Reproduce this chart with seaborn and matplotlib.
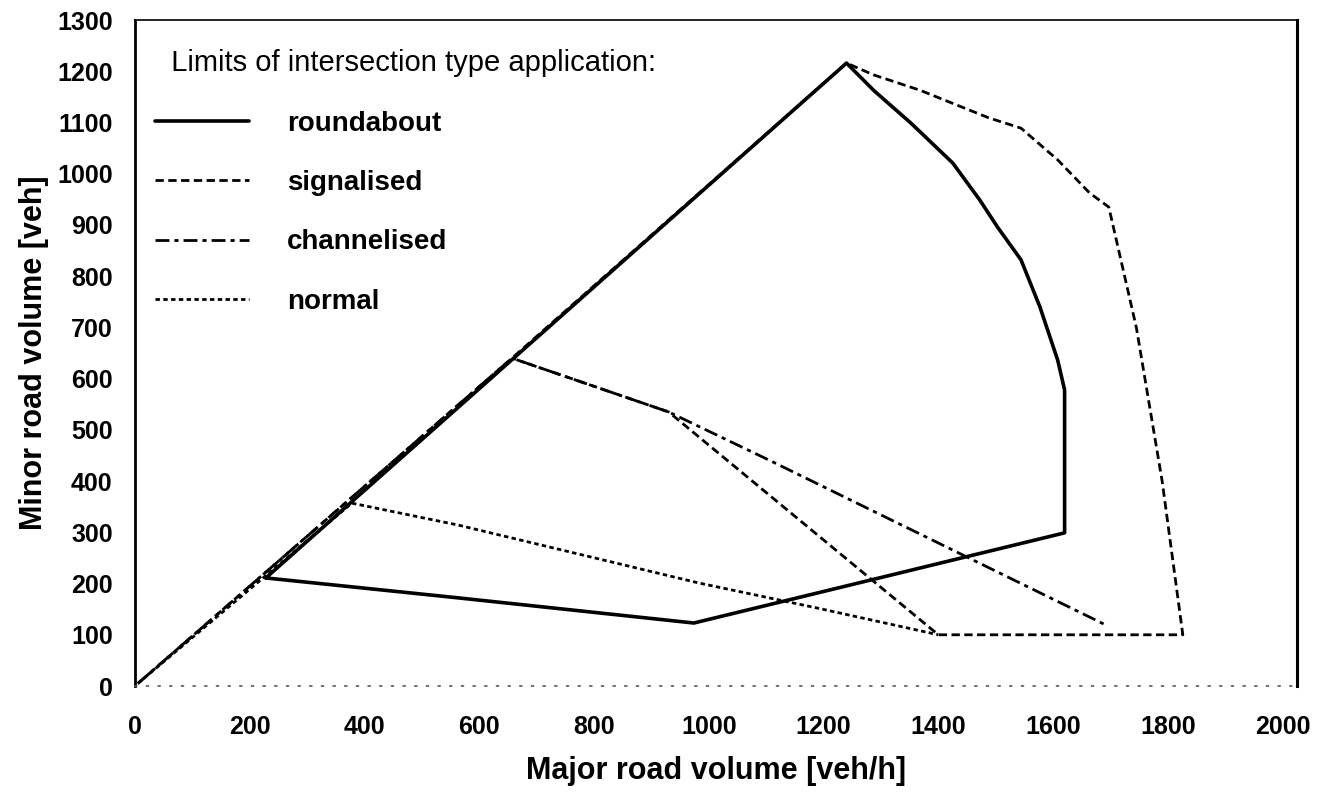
import numpy as np
import pandas as pd
import matplotlib
matplotlib.use("Agg")
import matplotlib.pyplot as plt
import seaborn as sns

# ---- data ----
roundabout_x = [228, 564, 974, 1620, 1620, 1608, 1577, 1544, 1503, 1472, 1425, 1352, 1287, 1240, 228]
roundabout_y = [211, 172, 123, 299, 578, 636, 740, 832, 896, 949, 1021, 1099, 1163, 1216, 211]

signalised_x = [5, 657, 1240, 1287, 1368, 1488, 1544, 1608, 1664, 1697, 1745, 1790, 1826, 1400, 930, 657]
signalised_y = [5, 640, 1216, 1193, 1163, 1109, 1089, 1027, 962, 935, 700, 400, 100, 100, 535, 640]

channelised_x = [5, 657, 930, 1105, 1692]
channelised_y = [5, 640, 535, 441, 119]

normal_x = [5, 378, 564, 983, 1190, 1400]
normal_y = [5, 357, 314, 201, 152, 100]

types = ["roundabout", "signalised", "channelised", "normal"]
legend_title = "Limits of intersection type application:"
x_label = "Major road volume [veh/h]"
y_label = "Minor road volume [veh]"
x_ticks = list(range(0, 2001, 200))
y_ticks = list(range(0, 1301, 100))

frames = []
for name, xs, ys in [("roundabout", roundabout_x, roundabout_y),
                     ("signalised", signalised_x, signalised_y),
                     ("channelised", channelised_x, channelised_y),
                     ("normal", normal_x, normal_y)]:
    frames.append(pd.DataFrame({"major": xs, "minor": ys, "type": name,
                                "order": range(len(xs))}))
df = pd.concat(frames, ignore_index=True)

sns.set_theme(style="white")
plt.rcParams["font.family"] = ["Liberation Sans", "DejaVu Sans"]
plt.rcParams["text.color"] = "black"

fig = plt.figure(figsize=(13.27, 7.92), dpi=100)
ax = fig.add_axes([0.1017, 0.1338, 0.8757, 0.8409])

palette = {t: "black" for t in types}
dashes = {"roundabout": "", "signalised": (3, 1.6),
          "channelised": (5, 1.8, 1.5, 1.8), "normal": (1.6, 1.2)}
sizes = {"roundabout": 2.6, "signalised": 2.0, "channelised": 2.0, "normal": 2.0}

sns.lineplot(data=df, x="major", y="minor", hue="type", style="type", size="type",
             hue_order=types, style_order=types, size_order=types,
             palette=palette, dashes=dashes, sizes=sizes,
             sort=False, estimator=None, units="type", ax=ax)

ax.set_xlim(0, 2025)
ax.set_ylim(0, 1300)
ax.set_xticks(x_ticks)
ax.set_yticks(y_ticks)
ax.tick_params(axis="x", length=0, pad=21, labelsize=18)
ax.tick_params(axis="y", length=0, pad=16, labelsize=18)
for lab in ax.get_xticklabels() + ax.get_yticklabels():
    lab.set_fontweight("bold")
    lab.set_color("black")

ax.set_xlabel(x_label, fontsize=22, fontweight="bold", color="black", labelpad=12)
ax.set_ylabel(y_label, fontsize=22, fontweight="bold", color="black", labelpad=6)

for side in ["left", "right", "top"]:
    ax.spines[side].set_visible(True)
    ax.spines[side].set_color("black")
ax.spines["left"].set_linewidth(2.0)
ax.spines["right"].set_linewidth(2.2)
ax.spines["top"].set_linewidth(1.2)
ax.spines["bottom"].set_color("0.35")
ax.spines["bottom"].set_linestyle((0, (1, 6)))
ax.spines["bottom"].set_linewidth(1.2)

handles, labels = ax.get_legend_handles_labels()
hmap = dict(zip(labels, handles))
leg = ax.legend([hmap[t] for t in types], types, title="  " + legend_title,
                loc="upper left", bbox_to_anchor=(0.017, 0.956),
                borderaxespad=0, borderpad=0, frameon=False,
                handlelength=3.4, handletextpad=1.35, labelspacing=1.2,
                alignment="left",
                prop={"size": 20, "weight": "bold"}, title_fontproperties={"size": 21})
for t in leg.get_texts():
    t.set_color("black")
leg.get_title().set_color("black")

fig.savefig("out.png", dpi=100, facecolor="white")
